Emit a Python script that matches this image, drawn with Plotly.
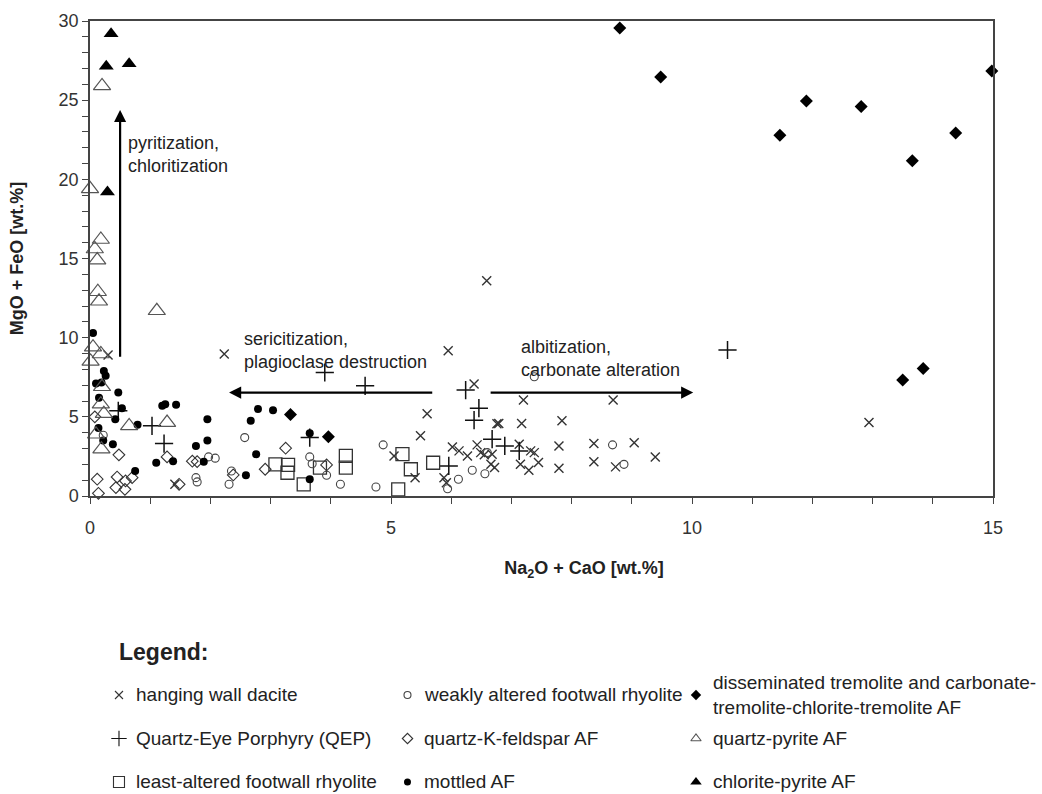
import plotly.graph_objects as go

# ---------------- data ----------------
categories = [
    "hanging wall dacite",
    "Quartz-Eye Porphyry (QEP)",
    "least-altered footwall rhyolite",
    "weakly altered footwall rhyolite",
    "quartz-K-feldspar AF",
    "mottled AF",
    "disseminated tremolite and carbonate-<br>tremolite-chlorite-tremolite AF",
    "quartz-pyrite AF",
    "chlorite-pyrite AF",
]

dacite_x = [2.23, 5.95, 6.59, 5.60, 5.49, 6.38, 6.76, 6.02, 6.13, 6.27, 6.43, 6.66, 5.88, 5.92, 5.05, 5.40,
            7.20, 8.69, 6.79, 7.17, 7.84, 7.13, 7.32, 7.38, 6.49, 6.68, 7.15, 7.29, 7.45, 7.79, 7.79, 8.37,
            9.04, 8.37, 8.73, 9.39, 12.94, 1.41, 0.30, 6.55, 6.72]
dacite_y = [8.97, 9.18, 13.60, 5.20, 3.80, 7.07, 4.56, 3.10, 2.85, 2.53, 3.23, 2.00, 1.16, 0.84, 2.53, 1.16,
            6.06, 6.06, 4.58, 4.58, 4.75, 3.27, 2.85, 2.74, 2.74, 2.64, 2.00, 1.63, 2.11, 3.16, 1.75, 3.31,
            3.37, 2.17, 1.84, 2.47, 4.64, 0.74, 8.90, 2.60, 1.80]

qep_x = [3.90, 4.57, 6.24, 6.46, 6.38, 6.68, 5.96, 6.89, 7.13, 10.59, 0.47, 1.03, 1.23, 3.65]
qep_y = [7.80, 6.96, 6.69, 5.55, 4.79, 3.59, 1.90, 3.16, 2.85, 9.22, 5.38, 4.43, 3.31, 3.69]

least_x = [3.08, 3.29, 3.28, 3.55, 3.82, 4.25, 4.25, 5.19, 5.33, 5.70, 5.12]
least_y = [2.00, 1.96, 1.47, 0.74, 1.79, 2.53, 1.79, 2.64, 1.69, 2.10, 0.42]

weakly_x = [0.22, 1.76, 1.78, 1.97, 2.08, 2.35, 2.31, 2.57, 3.65, 3.69, 3.93, 4.16, 4.75, 4.87, 5.94, 6.12,
            6.35, 6.56, 6.60, 7.38, 8.68, 8.87]
weakly_y = [3.84, 1.16, 0.89, 2.47, 2.39, 1.58, 0.74, 3.69, 2.47, 2.04, 1.31, 0.74, 0.57, 3.23, 0.46, 1.06,
            1.63, 1.41, 2.74, 7.53, 3.23, 2.00]

qkf_x = [0.08, 0.12, 0.14, 0.48, 0.45, 0.43, 0.59, 0.58, 0.70, 1.28, 1.48, 1.70, 1.78, 2.38, 3.25, 2.91, 3.93]
qkf_y = [5.00, 1.06, 0.17, 2.60, 1.20, 0.53, 0.95, 0.42, 1.16, 2.47, 0.74, 2.20, 2.17, 1.33, 3.02, 1.69, 1.96]

mottled_x = [0.05, 0.23, 0.26, 0.10, 0.19, 0.15, 0.47, 0.53, 0.42, 0.79, 0.14, 0.22, 0.38, 0.75, 1.10, 1.20,
             1.25, 1.43, 1.38, 1.95, 1.95, 1.76, 1.89, 2.79, 3.04, 2.67, 2.76, 2.59, 3.65, 3.65]
mottled_y = [10.30, 7.90, 7.60, 7.10, 7.17, 6.20, 6.54, 5.55, 4.85, 4.50, 4.30, 3.50, 3.27, 1.58, 2.10, 5.70,
             5.80, 5.76, 2.20, 4.85, 3.50, 3.16, 2.17, 5.49, 5.42, 4.75, 2.64, 1.31, 3.97, 1.06]

dissem_x = [3.33, 3.96, 8.80, 9.48, 11.46, 11.90, 12.81, 13.66, 14.38, 14.98, 13.50, 13.84]
dissem_y = [5.15, 3.75, 29.56, 26.46, 22.78, 24.94, 24.60, 21.18, 22.93, 26.85, 7.32, 8.06]

qpyr_x = [0.20, 0.00, 0.18, 0.08, 0.12, 0.13, 0.15, 1.11, 0.05, 0.18, 0.01, 0.20, 0.18, 0.23, 0.65, 1.28,
          0.10, 0.19]
qpyr_y = [25.90, 19.40, 16.20, 15.60, 14.90, 12.90, 12.30, 11.70, 9.40, 8.97, 8.50, 6.90, 5.80, 5.20, 4.43,
          4.64, 3.90, 2.96]

chlpyr_x = [0.35, 0.27, 0.65, 0.29]
chlpyr_y = [29.20, 27.15, 27.30, 19.20]

series_x = [dacite_x, qep_x, least_x, weakly_x, qkf_x, mottled_x, dissem_x, qpyr_x, chlpyr_x]
series_y = [dacite_y, qep_y, least_y, weakly_y, qkf_y, mottled_y, dissem_y, qpyr_y, chlpyr_y]

x_title = "Na<sub>2</sub>O + CaO [wt.%]"
y_title = "MgO + FeO [wt.%]"

# process arrows: (tail_x, tail_y, head_x, head_y)
arrows = [(0.5, 8.7, 0.5, 24.38), (5.71, 6.53, 2.31, 6.53), (6.63, 6.53, 10.02, 6.53)]
# arrow labels: (x, y-centre, text)
arrow_labels = [
    (0.60, 21.58, "pyritization,<br>chloritization"),
    (2.52, 9.22, "sericitization,<br>plagioclase destruction"),
    (7.13, 8.68, "albitization,<br>carbonate alteration"),
]

# ---------------- styles ----------------
FONT = "Arial, 'Liberation Sans', Helvetica, sans-serif"
symbols = ["x-thin-open", "cross-thin-open", "square-open", "circle-open", "diamond-open",
           "circle", "diamond", "triangle-up-open", "triangle-up"]
sizes = [9, 13, 13, 8, 9, 8, 10, 15, 13]
leg_sizes = [8, 11, 11, 7, 8, 7, 8, 9, 10]
colors = ["#333333", "#111111", "#333333", "#444444", "#333333", "#000000", "#000000", "#555555", "#000000"]
line_w = [1.4, 1.5, 1.3, 1.1, 1.1, 0, 0, 1.2, 0]

fig = go.Figure()

for i, name in enumerate(categories):
    fig.add_trace(go.Scatter(
        x=series_x[i], y=series_y[i], mode="markers", name=name, showlegend=False,
        cliponaxis=False,
        marker=dict(symbol=symbols[i], size=sizes[i], color=colors[i],
                    line=dict(width=line_w[i], color=colors[i])),
        xaxis="x", yaxis="y"))

# manual legend (3 columns x 3 rows, column-major from category order)
annotations = []
for i, name in enumerate(categories):
    col, row = i // 3, i % 3
    fig.add_trace(go.Scatter(
        x=[col], y=[row], mode="markers", showlegend=False, hoverinfo="skip",
        marker=dict(symbol=symbols[i], size=leg_sizes[i], color=colors[i],
                    line=dict(width=1.1 if line_w[i] else 0, color=colors[i])),
        xaxis="x2", yaxis="y2"))
    annotations.append(dict(
        x=col, y=row, xref="x2", yref="y2", text=name, showarrow=False,
        xanchor="left", yanchor="middle", xshift=15, align="left",
        font=dict(family=FONT, size=19, color="#222222")))

annotations.append(dict(x=0.0299, y=0.1837, xref="paper", yref="paper", text="<b>Legend:</b>",
                        showarrow=False, xanchor="left", yanchor="middle",
                        font=dict(family=FONT, size=23, color="#222222")))

for (tx, ty, hx, hy) in arrows:
    annotations.append(dict(x=hx, y=hy, ax=tx, ay=ty, xref="x", yref="y", axref="x", ayref="y",
                            text="", showarrow=True, arrowhead=2, arrowsize=1.1, arrowwidth=2.2,
                            arrowcolor="#000000", standoff=0, startstandoff=0))

for (lx, ly, txt) in arrow_labels:
    annotations.append(dict(x=lx, y=ly, xref="x", yref="y", text=txt, showarrow=False,
                            xanchor="left", yanchor="middle", align="left",
                            font=dict(family=FONT, size=18, color="#222222")))

axis_common = dict(showline=True, linecolor="#444444", linewidth=1.5, mirror=True,
                   ticks="outside", ticklen=6, tickwidth=1.3, tickcolor="#444444",
                   showgrid=False, zeroline=False, automargin=False,
                   tickfont=dict(family=FONT, size=18, color="#333333"),
                   minor=dict(dtick=1, ticks="outside", ticklen=6, tickwidth=1.3, tickcolor="#444444",
                              showgrid=False))

title_font = dict(family=FONT, size=18, color="#222222")

fig.update_layout(
    width=1042, height=794,
    margin=dict(l=90, r=49, t=21, b=0, autoexpand=False),
    paper_bgcolor="white", plot_bgcolor="white",
    font=dict(family=FONT, color="#222222"),
    xaxis=dict(range=[0, 15], dtick=5, tick0=0, anchor="y", domain=[0, 1], ticklabelstandoff=9,
               title=dict(text="&nbsp;" * 17 + "<b>" + x_title + "</b>", font=title_font, standoff=24),
               **axis_common),
    yaxis=dict(range=[0, 30], dtick=5, tick0=0, anchor="x", domain=[0.3855, 1],
               title=dict(text="<b>" + y_title + "</b>", font=title_font, standoff=30),
               **axis_common),
    xaxis2=dict(range=[-0.1005, 3.0295], domain=[0, 1], anchor="y2", visible=False, fixedrange=True,
                automargin=False),
    yaxis2=dict(range=[2.276, -3.055], domain=[0, 0.3], anchor="x2", visible=False, fixedrange=True,
                automargin=False),
    annotations=annotations,
    showlegend=False,
)

fig.write_html("out.html")
